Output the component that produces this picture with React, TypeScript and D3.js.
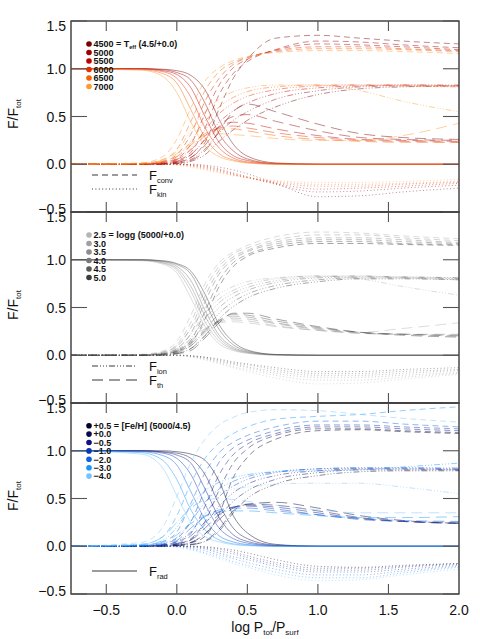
import * as d3 from 'd3';

// shared depth grid (log Ptot/Psurf)
const logP = [-0.75, -0.25, -0.1, 0, 0.1, 0.2, 0.3, 0.4, 0.5, 0.7, 1.0, 1.3, 1.6, 2.0];

// ---- panel 1 : Teff sequence (logg 4.5, [Fe/H] +0.0)
const teffLabels = ['4500', '5000', '5500', '6000', '6500', '7000'];
const teffColors = ['#7a0000', '#9e0000', '#c00000', '#e03000', '#f86000', '#ff9a30'];
const teffRad = [
  [1, 1, 0.995, 0.98, 0.93, 0.78, 0.47, 0.21, 0.085, 0.014, 0, 0, 0, 0],
  [1, 1, 0.99, 0.96, 0.88, 0.64, 0.32, 0.14, 0.055, 0.008, 0, 0, 0, 0],
  [1, 1, 0.98, 0.94, 0.8, 0.5, 0.23, 0.09, 0.04, 0.005, 0, 0, 0, 0],
  [1, 0.995, 0.97, 0.9, 0.7, 0.38, 0.17, 0.065, 0.025, 0.003, 0, 0, 0, 0],
  [1, 0.99, 0.95, 0.85, 0.57, 0.28, 0.11, 0.045, 0.018, 0.002, 0, 0, 0, 0],
  [1, 0.985, 0.92, 0.75, 0.44, 0.19, 0.08, 0.035, 0.012, 0, 0, 0, 0, 0],
];
const teffConv = [
  [0, 0, 0.005, 0.02, 0.07, 0.23, 0.58, 0.9, 1.1, 1.32, 1.35, 1.32, 1.29, 1.26],
  [0, 0, 0.01, 0.04, 0.125, 0.38, 0.73, 0.95, 1.075, 1.2, 1.29, 1.28, 1.25, 1.22],
  [0, 0, 0.02, 0.06, 0.21, 0.53, 0.83, 1.01, 1.1, 1.195, 1.26, 1.25, 1.23, 1.2],
  [0, 0.005, 0.03, 0.1, 0.315, 0.66, 0.9, 1.045, 1.115, 1.187, 1.23, 1.23, 1.21, 1.19],
  [0, 0.01, 0.05, 0.155, 0.45, 0.77, 0.97, 1.065, 1.122, 1.178, 1.21, 1.21, 1.2, 1.18],
  [0, 0.015, 0.08, 0.26, 0.59, 0.87, 1.01, 1.085, 1.128, 1.17, 1.19, 1.19, 1.18, 1.16],
];
const teffKin = [
  [0, 0, 0, 0, 0, -0.01, -0.03, -0.06, -0.1, -0.2, -0.34, -0.33, -0.29, -0.25],
  [0, 0, 0, 0, -0.005, -0.02, -0.05, -0.09, -0.13, -0.21, -0.29, -0.28, -0.25, -0.22],
  [0, 0, 0, 0, -0.01, -0.03, -0.06, -0.1, -0.14, -0.2, -0.26, -0.25, -0.23, -0.2],
  [0, 0, 0, 0, -0.015, -0.04, -0.07, -0.11, -0.14, -0.19, -0.23, -0.23, -0.21, -0.19],
  [0, 0, 0, -0.005, -0.02, -0.05, -0.08, -0.11, -0.14, -0.18, -0.21, -0.21, -0.2, -0.18],
  [0, 0, 0, -0.01, -0.03, -0.06, -0.09, -0.12, -0.14, -0.17, -0.19, -0.19, -0.18, -0.16],
];
const teffIon = [
  [0, 0, 0, 0.005, 0.03, 0.1, 0.24, 0.36, 0.46, 0.6, 0.73, 0.79, 0.81, 0.82],
  [0, 0, 0, 0.01, 0.05, 0.16, 0.33, 0.46, 0.55, 0.68, 0.77, 0.81, 0.82, 0.82],
  [0, 0, 0.005, 0.03, 0.1, 0.26, 0.44, 0.56, 0.64, 0.74, 0.8, 0.82, 0.83, 0.83],
  [0, 0, 0.01, 0.05, 0.16, 0.36, 0.53, 0.64, 0.71, 0.78, 0.82, 0.83, 0.83, 0.82],
  [0, 0, 0.02, 0.08, 0.24, 0.45, 0.6, 0.7, 0.76, 0.81, 0.83, 0.83, 0.82, 0.81],
  [0, 0.005, 0.04, 0.14, 0.35, 0.55, 0.68, 0.76, 0.8, 0.83, 0.83, 0.77, 0.66, 0.55],
];
const teffTh = [
  [0, 0, 0, 0.01, 0.04, 0.14, 0.35, 0.55, 0.63, 0.55, 0.42, 0.32, 0.28, 0.26],
  [0, 0, 0.005, 0.02, 0.07, 0.2, 0.4, 0.5, 0.52, 0.45, 0.35, 0.28, 0.26, 0.25],
  [0, 0, 0.01, 0.03, 0.1, 0.26, 0.39, 0.44, 0.43, 0.37, 0.3, 0.26, 0.25, 0.24],
  [0, 0, 0.02, 0.05, 0.15, 0.3, 0.38, 0.4, 0.38, 0.33, 0.28, 0.25, 0.24, 0.23],
  [0, 0.005, 0.03, 0.08, 0.2, 0.32, 0.37, 0.37, 0.35, 0.3, 0.26, 0.24, 0.23, 0.23],
  [0, 0.01, 0.04, 0.11, 0.22, 0.3, 0.32, 0.31, 0.3, 0.27, 0.25, 0.25, 0.3, 0.43],
];

// ---- panel 2 : logg sequence (Teff 5000, [Fe/H] +0.0)
const loggLabels = ['2.5', '3.0', '3.5', '4.0', '4.5', '5.0'];
const loggColors = ['#b4b4b4', '#a0a0a0', '#8c8c8c', '#787878', '#5a5a5a', '#3c3c3c'];
const loggRad = [
  [1, 0.99, 0.955, 0.86, 0.6, 0.3, 0.12, 0.05, 0.02, 0.002, 0, 0, 0, 0],
  [1, 0.995, 0.965, 0.89, 0.67, 0.35, 0.15, 0.06, 0.025, 0.003, 0, 0, 0, 0],
  [1, 0.995, 0.97, 0.91, 0.72, 0.41, 0.18, 0.07, 0.03, 0.004, 0, 0, 0, 0],
  [1, 1, 0.98, 0.93, 0.78, 0.47, 0.21, 0.085, 0.035, 0.005, 0, 0, 0, 0],
  [1, 1, 0.985, 0.95, 0.85, 0.56, 0.27, 0.11, 0.045, 0.007, 0, 0, 0, 0],
  [1, 1, 0.99, 0.96, 0.88, 0.64, 0.32, 0.14, 0.055, 0.008, 0, 0, 0, 0],
];
const loggConv = [
  [0, 0.01, 0.045, 0.145, 0.42, 0.75, 0.97, 1.08, 1.15, 1.24, 1.29, 1.28, 1.25, 1.22],
  [0, 0.005, 0.035, 0.11, 0.345, 0.69, 0.93, 1.06, 1.125, 1.207, 1.26, 1.26, 1.23, 1.2],
  [0, 0.005, 0.03, 0.09, 0.29, 0.62, 0.89, 1.03, 1.1, 1.186, 1.23, 1.23, 1.21, 1.18],
  [0, 0, 0.02, 0.07, 0.23, 0.56, 0.85, 1.005, 1.085, 1.165, 1.21, 1.21, 1.19, 1.17],
  [0, 0, 0.015, 0.05, 0.155, 0.46, 0.78, 0.97, 1.055, 1.143, 1.19, 1.19, 1.17, 1.16],
  [0, 0, 0.01, 0.04, 0.125, 0.38, 0.72, 0.93, 1.035, 1.122, 1.17, 1.17, 1.16, 1.15],
];
const loggKin = [
  [0, 0, 0, -0.005, -0.02, -0.05, -0.09, -0.13, -0.17, -0.24, -0.3, -0.29, -0.25, -0.2],
  [0, 0, 0, 0, -0.015, -0.04, -0.08, -0.12, -0.15, -0.21, -0.26, -0.26, -0.23, -0.19],
  [0, 0, 0, 0, -0.01, -0.03, -0.07, -0.1, -0.13, -0.19, -0.23, -0.23, -0.21, -0.18],
  [0, 0, 0, 0, -0.01, -0.03, -0.06, -0.09, -0.12, -0.17, -0.21, -0.21, -0.19, -0.16],
  [0, 0, 0, 0, -0.005, -0.02, -0.05, -0.08, -0.1, -0.15, -0.19, -0.19, -0.17, -0.15],
  [0, 0, 0, 0, -0.005, -0.02, -0.04, -0.07, -0.09, -0.13, -0.17, -0.17, -0.15, -0.13],
];
const loggIon = [
  [0, 0.005, 0.03, 0.1, 0.28, 0.5, 0.64, 0.72, 0.77, 0.81, 0.83, 0.8, 0.72, 0.63],
  [0, 0, 0.02, 0.07, 0.22, 0.44, 0.59, 0.68, 0.74, 0.8, 0.83, 0.83, 0.81, 0.79],
  [0, 0, 0.015, 0.05, 0.18, 0.38, 0.55, 0.65, 0.71, 0.78, 0.82, 0.83, 0.82, 0.81],
  [0, 0, 0.01, 0.04, 0.14, 0.33, 0.5, 0.61, 0.68, 0.76, 0.81, 0.82, 0.82, 0.81],
  [0, 0, 0.005, 0.03, 0.1, 0.26, 0.44, 0.56, 0.64, 0.73, 0.79, 0.81, 0.81, 0.8],
  [0, 0, 0, 0.02, 0.07, 0.2, 0.38, 0.51, 0.6, 0.7, 0.77, 0.8, 0.8, 0.79],
];
const loggTh = [
  [0, 0.005, 0.02, 0.06, 0.16, 0.28, 0.34, 0.35, 0.34, 0.3, 0.26, 0.24, 0.28, 0.34],
  [0, 0, 0.015, 0.05, 0.14, 0.27, 0.35, 0.37, 0.36, 0.31, 0.26, 0.23, 0.22, 0.22],
  [0, 0, 0.01, 0.04, 0.12, 0.26, 0.36, 0.39, 0.38, 0.33, 0.27, 0.23, 0.22, 0.21],
  [0, 0, 0.01, 0.03, 0.1, 0.24, 0.37, 0.41, 0.4, 0.34, 0.28, 0.24, 0.22, 0.21],
  [0, 0, 0.005, 0.02, 0.07, 0.21, 0.36, 0.43, 0.42, 0.36, 0.29, 0.24, 0.22, 0.2],
  [0, 0, 0, 0.015, 0.05, 0.18, 0.34, 0.44, 0.44, 0.38, 0.3, 0.24, 0.21, 0.19],
];

// ---- panel 3 : [Fe/H] sequence (Teff 5000, logg 4.5)
const fehLabels = ['+0.5', '+0.0', '\u22120.5', '\u22121.0', '\u22122.0', '\u22123.0', '\u22124.0'];
const fehColors = ['#00002a', '#0a0a50', '#0c1282', '#0a36b4', '#0a64dc', '#1496ff', '#78c3ff'];
const fehRad = [
  [1, 1, 1, 0.99, 0.965, 0.9, 0.68, 0.32, 0.14, 0.02, 0, 0, 0, 0],
  [1, 1, 0.99, 0.975, 0.92, 0.75, 0.44, 0.19, 0.08, 0.012, 0, 0, 0, 0],
  [1, 1, 0.985, 0.955, 0.87, 0.6, 0.3, 0.12, 0.05, 0.007, 0, 0, 0, 0],
  [1, 0.995, 0.975, 0.92, 0.75, 0.44, 0.19, 0.08, 0.033, 0.004, 0, 0, 0, 0],
  [1, 0.99, 0.95, 0.85, 0.57, 0.28, 0.11, 0.045, 0.018, 0.002, 0, 0, 0, 0],
  [1, 0.98, 0.9, 0.7, 0.38, 0.17, 0.065, 0.025, 0.01, 0, 0, 0, 0, 0],
  [1, 0.965, 0.82, 0.53, 0.25, 0.1, 0.045, 0.017, 0.005, 0, 0, 0, 0, 0],
];
const fehConv = [
  [0, 0, 0, 0.01, 0.035, 0.105, 0.34, 0.72, 0.93, 1.12, 1.21, 1.22, 1.2, 1.18],
  [0, 0, 0.01, 0.025, 0.08, 0.26, 0.59, 0.87, 1.02, 1.16, 1.23, 1.23, 1.21, 1.19],
  [0, 0, 0.015, 0.045, 0.135, 0.42, 0.75, 0.96, 1.07, 1.18, 1.25, 1.25, 1.23, 1.21],
  [0, 0.005, 0.025, 0.08, 0.26, 0.59, 0.88, 1.03, 1.11, 1.21, 1.27, 1.27, 1.25, 1.23],
  [0, 0.01, 0.05, 0.15, 0.45, 0.77, 0.98, 1.09, 1.16, 1.25, 1.31, 1.31, 1.28, 1.25],
  [0, 0.02, 0.1, 0.32, 0.66, 0.92, 1.08, 1.18, 1.25, 1.33, 1.36, 1.38, 1.42, 1.46],
  [0, 0.04, 0.2, 0.52, 0.88, 1.12, 1.27, 1.35, 1.4, 1.43, 1.42, 1.38, 1.34, 1.3],
];
const fehKin = [
  [0, 0, 0, 0, 0, -0.005, -0.02, -0.04, -0.07, -0.14, -0.21, -0.22, -0.2, -0.18],
  [0, 0, 0, 0, 0, -0.01, -0.03, -0.06, -0.1, -0.17, -0.23, -0.23, -0.21, -0.18],
  [0, 0, 0, 0, -0.005, -0.02, -0.05, -0.08, -0.12, -0.19, -0.25, -0.25, -0.22, -0.19],
  [0, 0, 0, 0, -0.01, -0.03, -0.07, -0.11, -0.14, -0.21, -0.27, -0.27, -0.24, -0.2],
  [0, 0, 0, 0, -0.02, -0.05, -0.09, -0.13, -0.17, -0.24, -0.3, -0.3, -0.26, -0.21],
  [0, 0, 0, -0.005, -0.03, -0.07, -0.11, -0.16, -0.2, -0.27, -0.33, -0.33, -0.28, -0.22],
  [0, 0, 0, -0.01, -0.04, -0.08, -0.13, -0.18, -0.22, -0.3, -0.36, -0.35, -0.3, -0.24],
];
const fehIon = [
  [0, 0, 0, 0.005, 0.02, 0.05, 0.16, 0.35, 0.5, 0.65, 0.74, 0.78, 0.79, 0.79],
  [0, 0, 0, 0.01, 0.04, 0.13, 0.31, 0.47, 0.58, 0.7, 0.77, 0.8, 0.8, 0.8],
  [0, 0, 0.005, 0.02, 0.07, 0.23, 0.42, 0.56, 0.65, 0.74, 0.79, 0.81, 0.81, 0.8],
  [0, 0, 0.01, 0.05, 0.15, 0.34, 0.52, 0.63, 0.7, 0.77, 0.81, 0.82, 0.82, 0.81],
  [0, 0.005, 0.03, 0.09, 0.26, 0.46, 0.6, 0.68, 0.73, 0.78, 0.81, 0.82, 0.82, 0.82],
  [0, 0.01, 0.06, 0.2, 0.42, 0.58, 0.67, 0.72, 0.75, 0.78, 0.79, 0.8, 0.83, 0.87],
  [0, 0.02, 0.1, 0.25, 0.4, 0.5, 0.56, 0.6, 0.62, 0.65, 0.66, 0.66, 0.62, 0.55],
];
const fehTh = [
  [0, 0, 0, 0.005, 0.015, 0.055, 0.18, 0.37, 0.44, 0.46, 0.4, 0.32, 0.27, 0.24],
  [0, 0, 0.01, 0.015, 0.04, 0.13, 0.28, 0.4, 0.44, 0.43, 0.37, 0.3, 0.26, 0.24],
  [0, 0, 0.01, 0.025, 0.065, 0.19, 0.33, 0.41, 0.43, 0.41, 0.35, 0.29, 0.26, 0.24],
  [0, 0, 0.015, 0.03, 0.11, 0.25, 0.36, 0.41, 0.42, 0.39, 0.33, 0.28, 0.26, 0.25],
  [0, 0.005, 0.02, 0.06, 0.19, 0.31, 0.38, 0.4, 0.4, 0.37, 0.33, 0.29, 0.27, 0.26],
  [0, 0.01, 0.04, 0.12, 0.24, 0.32, 0.36, 0.37, 0.37, 0.35, 0.32, 0.3, 0.3, 0.31],
  [0, 0.02, 0.1, 0.25, 0.4, 0.48, 0.5, 0.49, 0.47, 0.43, 0.38, 0.35, 0.35, 0.35],
];

const xTicks = [-0.5, 0, 0.5, 1, 1.5, 2];
const yTicks = [-0.5, 0, 0.5, 1, 1.5];

const W = 480;
const H = 639;
const left = 71;
const right = 459;
const panelH = 191;
const panelTops = [21, 212, 403];
const font = 'Liberation Sans, Arial, Helvetica, sans-serif';
const frameColor = '#2a2a2a';

const dash: Record<string, string | undefined> = {
  rad: undefined,
  conv: '6,4',
  kin: '1,2.4',
  ion: '6,2,1,2,1,2,1,2',
  th: '11,6',
};

const fmt = (v: number) => (v < 0 ? '\u2212' : '') + Math.abs(v).toFixed(1);

const panels = [
  {
    labels: teffLabels, colors: teffColors,
    rad: teffRad, conv: teffConv, kin: teffKin, ion: teffIon, th: teffTh,
    title: ['= T', 'eff', ' (4.5/+0.0)'],
    keys: [{ k: 'conv', sub: 'conv', row: 0 }, { k: 'kin', sub: 'kin', row: 1 }],
  },
  {
    labels: loggLabels, colors: loggColors,
    rad: loggRad, conv: loggConv, kin: loggKin, ion: loggIon, th: loggTh,
    title: ['= logg', '', ' (5000/+0.0)'],
    keys: [{ k: 'ion', sub: 'ion', row: 0 }, { k: 'th', sub: 'th', row: 1 }],
  },
  {
    labels: fehLabels, colors: fehColors,
    rad: fehRad, conv: fehConv, kin: fehKin, ion: fehIon, th: fehTh,
    title: ['= [Fe/H]', '', ' (5000/4.5)'],
    keys: [{ k: 'rad', sub: 'rad', row: 1 }],
  },
];

const x = d3.scaleLinear().domain([-0.75, 2.0]).range([left, right]);

function Panel({ p, top, idx }: any) {
  const y = d3.scaleLinear().domain([-0.5, 1.5]).range([top + panelH, top]);
  const line = d3.line<number>()
    .x((_, i) => x(logP[i]))
    .y((d) => y(d))
    .curve(d3.curveMonotoneX);
  const kinds = ['rad', 'conv', 'kin', 'ion', 'th'];
  const clipId = `clip${idx}`;
  const legTop = top + (idx === 2 ? 22.7 : 23);
  const legStep = idx === 2 ? 8.4 : 8.5;
  const keyRow0 = top + 154;

  return (
    <g>
      <defs>
        <clipPath id={clipId}>
          <rect x={left} y={top} width={right - left} height={panelH} />
        </clipPath>
      </defs>
      <g clipPath={`url(#${clipId})`} fill="none">
        {p.labels.map((_: string, m: number) => (
          <g key={m} stroke={p.colors[m]} strokeWidth={0.75} strokeOpacity={0.62}>
            {kinds.map((k) => (
              <path key={k} d={line(p[k][m]) || ''} strokeDasharray={dash[k]} />
            ))}
          </g>
        ))}
      </g>

      {/* frame and ticks */}
      <rect x={left} y={top} width={right - left} height={panelH} fill="none" stroke={frameColor} strokeWidth={1.3} />
      {xTicks.slice(0, 5).map((t) => (
        <g key={t} stroke="#555" strokeWidth={1.1}>
          <line x1={x(t)} x2={x(t)} y1={top} y2={top + 10} />
          <line x1={x(t)} x2={x(t)} y1={top + panelH} y2={top + panelH - 10} />
        </g>
      ))}
      {yTicks.map((t) => (
        <g key={t} stroke="#555" strokeWidth={1.1}>
          <line x1={left} x2={left + 16} y1={y(t)} y2={y(t)} />
          <line x1={right} x2={right - 16} y1={y(t)} y2={y(t)} />
        </g>
      ))}
      {yTicks.map((t) => (
        <text key={t} x={66} y={y(t) + (t === 1.5 ? 5 : t === -0.5 ? -3 : 0)} dy="0.36em"
          textAnchor="end" fontSize={14} fontFamily={font} fill="#111">
          {fmt(t)}
        </text>
      ))}

      {/* y title */}
      <text transform={`translate(18,${top + 93}) rotate(-90)`} textAnchor="middle"
        fontSize={14} fontFamily={font} fill="#111">
        F/F<tspan fontSize={8} dy={3}>tot</tspan>
      </text>

      {/* model legend */}
      {p.labels.map((lab: string, m: number) => (
        <g key={lab}>
          <circle cx={89} cy={legTop + m * legStep} r={2.8} fill={p.colors[m]} />
          <text x={93.5} y={legTop + m * legStep} dy="0.36em" fontSize={9} fontFamily={font}
            fontWeight="bold" fill="#111">
            {m === 0 ? (
              <>
                {lab} {p.title[0]}
                {p.title[1] ? <tspan fontSize={5.5} dy={2}>{p.title[1]}</tspan> : null}
                <tspan dy={p.title[1] ? -2 : 0}>{p.title[2]}</tspan>
              </>
            ) : lab}
          </text>
        </g>
      ))}

      {/* line-style key */}
      {p.keys.map((kk: any) => {
        const ky = keyRow0 + kk.row * 14;
        return (
          <g key={kk.k}>
            <line x1={92} x2={137} y1={ky} y2={ky} stroke="#222" strokeWidth={0.9}
              strokeDasharray={dash[kk.k]} />
            <text x={149} y={ky} dy="0.36em" fontSize={13} fontFamily={font} fill="#111">
              F<tspan fontSize={7.5} dy={3}>{kk.sub}</tspan>
            </text>
          </g>
        );
      })}
    </g>
  );
}

export default function App() {
  const bottom = panelTops[2] + panelH;
  return (
    <svg width={W} height={H} viewBox={`0 0 ${W} ${H}`}
      style={{ position: 'absolute', left: 0, top: 0, background: '#fff' }}>
      <rect width={W} height={H} fill="#fff" />
      {panels.map((p, i) => (
        <Panel key={i} p={p} top={panelTops[i]} idx={i} />
      ))}
      {xTicks.map((t) => (
        <text key={t} x={x(t)} y={bottom + 16} dy="0.36em" textAnchor="middle"
          fontSize={14} fontFamily={font} fill="#111">
          {fmt(t)}
        </text>
      ))}
      <text x={(left + right) / 2} y={bottom + 38} textAnchor="middle" fontSize={14}
        fontFamily={font} fill="#111">
        log P<tspan fontSize={8} dy={3}>tot</tspan>
        <tspan dy={-3}>/P</tspan>
        <tspan fontSize={8} dy={3}>surf</tspan>
      </text>
    </svg>
  );
}
